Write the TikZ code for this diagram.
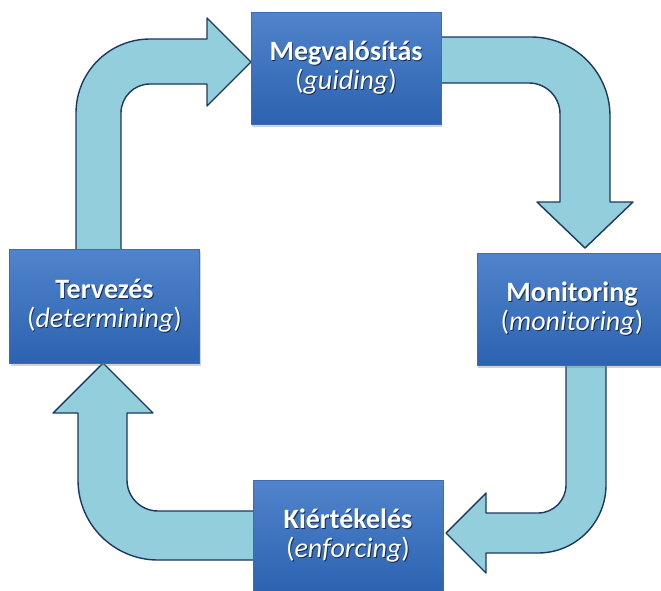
\documentclass[tikz,border=0pt]{standalone}
\usepackage{fontspec}
\setmainfont{Carlito}
\usetikzlibrary{shadows,calc}
\definecolor{boxtop}{RGB}{80,132,204}
\definecolor{boxbot}{RGB}{44,98,176}
\definecolor{boxedge}{RGB}{62,108,178}
\definecolor{arrowfill}{RGB}{147,206,220}
\definecolor{arrowline}{RGB}{28,56,96}
\definecolor{txtshadow}{RGB}{22,40,75}
\newcommand{\shtxt}[1]{\leavevmode\rlap{\kern0.9pt\raisebox{-1.1pt}{\textcolor{txtshadow}{#1}}}#1}
\tikzset{
  stagebox/.style={rectangle, minimum width=190pt, minimum height=112pt, inner sep=0pt,
    top color=boxtop, bottom color=boxbot, draw=boxedge, line width=0.8pt,
    drop shadow={shadow xshift=1pt, shadow yshift=-3pt, opacity=0.35},
    align=center, text=white, font=\fontsize{28}{29}\selectfont},
  blockarrow/.style={fill=arrowfill, draw=arrowline, line width=1.4pt, line join=round}
}
\begin{document}
\begin{tikzpicture}[x=1pt,y=-1pt]
\useasboundingbox (0,0) rectangle (661,590);
% block arrows
\path[blockarrow] (76,255) -- (76,113) arc[start angle=180,end angle=270,radius=74]
  -- (207,39) -- (207,18) -- (251,62) -- (207,106) -- (207,84) -- (150,84)
  arc[start angle=270,end angle=180,radius=29] -- (121,255) -- cycle;
\path[blockarrow] (430,37) -- (531,37) arc[start angle=270,end angle=360,radius=79]
  -- (610,202) -- (633,202) -- (585,248) -- (537,202) -- (560,202) -- (560,114)
  arc[start angle=0,end angle=-90,radius=31] -- (430,83) -- cycle;
\path[blockarrow] (566,355) -- (606,355) -- (606,485) arc[start angle=0,end angle=90,radius=68]
  -- (486,553) -- (486,573) -- (446,533) -- (486,493) -- (486,513) -- (538,513)
  arc[start angle=90,end angle=0,radius=28] -- cycle;
\path[blockarrow] (265,511) -- (158,511) arc[start angle=90,end angle=180,radius=31]
  -- (127,413) -- (153,413) -- (103,363) -- (53,413) -- (78,413) -- (78,480)
  arc[start angle=180,end angle=90,radius=80] -- (265,560) -- cycle;
% stage boxes
\node[stagebox] (impl) at (346,68) {\shtxt{\textbf{Megvalósítás}}\\\shtxt{(\textit{guiding})}};
\node[stagebox, minimum height=114pt] (plan) at (104.5,306) {\shtxt{\textbf{Tervezés}}\\\shtxt{(\textit{determining})}};
\node[stagebox] (mon) at (572,309) {\shtxt{\textbf{Monitoring}}\\\shtxt{(\textit{monitoring})}};
\node[stagebox] (eval) at (348,536) {\shtxt{\textbf{Kiértékelés}}\\\shtxt{(\textit{enforcing})}};
\end{tikzpicture}
\end{document}
